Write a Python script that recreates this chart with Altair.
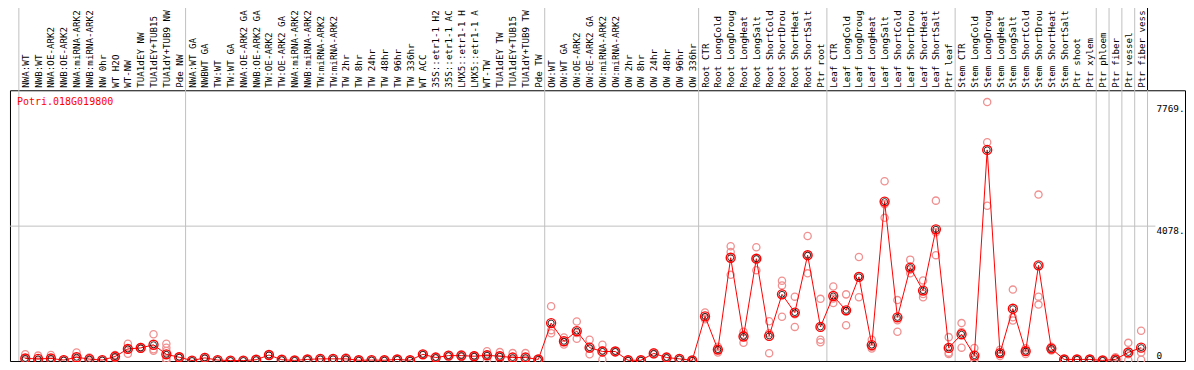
import json
import pandas as pd
import altair as alt

gene = "Potri.018G019800"

labels = [
    "NWA:WT", "NWB:WT", "NWA:OE-ARK2", "NWB:OE-ARK2", "NWA:miRNA-ARK2", "NWB:miRNA-ARK2",
    "NW 0hr", "WT H2O", "WT-NW", "TUA1dEY NW", "TUA1dEY+TUB15", "TUA1dY+TUB9 NW", "Pde NW",
    "NWA:WT GA", "NWBWT GA", "TW:WT", "TW:WT GA", "NWA:OE-ARK2 GA", "NWB:OE-ARK2 GA",
    "TW:OE-ARK2", "TW:OE-ARK2 GA", "NWA:miRNA-ARK2", "NWB:miRNA-ARK2", "TW:miRNA-ARK2",
    "TW:miRNA-ARK2", "TW 2hr", "TW 8hr", "TW 24hr", "TW 48hr", "TW 96hr", "TW 336hr",
    "WT ACC", "35S::etr1-1 H2", "35S::etr1-1 AC", "LMX5::etr1-1 H", "LMX5::etr1-1 A",
    "WT-TW", "TUA1dEY TW", "TUA1dEY+TUB15", "TUA1dY+TUB9 TW", "Pde TW",
    "OW:WT", "OW:WT GA", "OW:OE-ARK2", "OW:OE-ARK2 GA", "OW:miRNA-ARK2", "OW:miRNA-ARK2",
    "OW 2hr", "OW 8hr", "OW 24hr", "OW 48hr", "OW 96hr", "OW 336hr",
    "Root CTR", "Root LongCold", "Root LongDroug", "Root LongHeat", "Root LongSalt",
    "Root ShortCold", "Root ShortDrou", "Root ShortHeat", "Root ShortSalt", "Ptr root",
    "Leaf CTR", "Leaf LongCold", "Leaf LongDroug", "Leaf LongHeat", "Leaf LongSalt",
    "Leaf ShortCold", "Leaf ShortDrou", "Leaf ShortHeat", "Leaf ShortSalt", "Ptr leaf",
    "Stem CTR", "Stem LongCold", "Stem LongDroug", "Stem LongHeat", "Stem LongSalt",
    "Stem ShortCold", "Stem ShortDrou", "Stem ShortHeat", "Stem ShortSalt", "Ptr shoot",
    "Ptr xylem", "Ptr phloem", "Ptr fiber", "Ptr vessel", "Ptr fiber vess",
]

means = [
    64, 52, 64, 15, 101, 44, 15, 122, 353, 383, 479, 189, 101,
    0, 82, 15, 0, 0, 25, 168, 25, 5, 35, 52, 52, 52, 10, 15, 10, 35, 10, 189, 92, 150,
    150, 131, 160, 131, 92, 92, 35,
    1137, 585, 895, 392, 276, 276, 10, 10, 218, 92, 52, 5,
    1340, 334, 3120, 731, 3091, 749, 2008, 1456, 3198, 1021,
    1959, 1524, 2539, 470, 4823, 1311, 2821, 2124, 3981, 383,
    798, 150, 6390, 227, 1573, 285, 2888, 363, 35, 35, 35,
    5, 35, 247, 392,
]

reps = [
    [190, 60, 0], [150, 20, 0], [168, 40, 0], [25, 15, 5], [247, 60, 0], [90, 40, 5],
    [20, 15, 10], [170, 120, 80], [508, 353, 209], [410, 380, 360], [798, 343, 296],
    [508, 392, 290, 60, 0], [120, 100, 85],
    [5, 0, 0], [110, 80, 55], [20, 15, 10], [0, 0, 0], [0, 0, 0], [35, 25, 15],
    [180, 168, 155], [35, 25, 15], [10, 5, 0], [45, 35, 25], [70, 52, 35], [65, 52, 40],
    [90, 45, 20], [15, 10, 5], [20, 15, 10], [15, 10, 5], [45, 35, 25], [15, 10, 5],
    [200, 189, 178], [110, 92, 75], [165, 150, 135], [189, 150, 110], [150, 131, 112],
    [285, 160, 35], [256, 122, 15], [227, 40, 10], [227, 40, 10], [45, 35, 25],
    [1648, 923, 827], [702, 565, 488], [1185, 840, 662], [633, 355, 189], [479, 315, 35],
    [290, 276, 262], [15, 10, 5], [15, 10, 5], [250, 210, 195], [110, 92, 75],
    [65, 52, 40], [10, 5, 0],
    [1456, 1311, 1253], [420, 334, 247], [3468, 3294, 2600], [876, 780, 537],
    [3439, 3091, 2743], [1195, 827, 225], [2420, 2280, 1330], [1939, 1408, 1021],
    [3778, 3170, 2646], [1872, 633, 557],
    [2249, 1880, 1747], [2008, 1500, 1069], [3140, 2556, 1921], [633, 415, 363],
    [5441, 4745, 4330], [1834, 1223, 876], [3062, 2755, 2646], [2432, 2020, 1921],
    [4852, 3893, 3198], [711, 240, 198],
    [1137, 865, 392], [380, 35, 35], [7841, 6622, 4696], [325, 220, 136],
    [2153, 1311, 1214], [372, 285, 198], [5035, 1939, 1698], [420, 363, 306],
    [45, 35, 25], [45, 35, 25], [45, 35, 25],
    [10, 5, 0], [102, 10, 0], [537, 190, 15], [905, 247, 25],
]

group_bounds = [-0.5, 12.5, 40.5, 52.5, 62.5, 72.5, 83.5, 84.5, 85.5, 86.5, 87.5]
y_ticks = [0, 4078, 7769]
grid_ticks = [4078]

# ---- layout (reference pixels scaled into the 1178x354 drawing area) ----
SX = 1178 / 1194
SY = 354 / 370
PAD_L = 2 * SX
PAD_T = 86 * SY
W = 1191 * SX
H = 283 * SY
PAD_R = 1178 - PAD_L - W
PAD_B = 354 - PAD_T - H
FONT = "DejaVu Sans Mono"
FS = 9.2

n = len(labels)
df_mean = pd.DataFrame({"x": list(range(n)), "y": means[:n]})
rows = []
for i, r in enumerate(reps[:n]):
    for v in r:
        rows.append({"x": i, "y": v})
df_rep = pd.DataFrame(rows)
df_sep = pd.DataFrame({"x": group_bounds})
df_last = pd.DataFrame({"x": group_bounds[-1:]})
df_grid = pd.DataFrame({"y": grid_ticks})
df_name = pd.DataFrame({"name": [gene]})

xs = alt.Scale(domain=[-15.5 / 13, (1191 - 15.5) / 13], nice=False, zero=False)
ys = alt.Scale(domain=[-0.5 * 4078 / 140.5, 282.5 * 4078 / 140.5], nice=False, zero=False)

label_js = "[" + ",".join(json.dumps(s) for s in labels) + "][datum.value]"

xaxis = alt.Axis(
    orient="top", values=list(range(n)), labelExpr=label_js, labelAngle=270,
    labelAlign="left", labelBaseline="middle", labelPadding=3, ticks=False, tickSize=0,
    domain=False, grid=False, labelOverlap=False, labelFlush=False, labelBound=False,
    labelLimit=300, labelFont=FONT, labelFontSize=FS, labelColor="black", title=None,
)
yaxis = alt.Axis(
    orient="right", values=y_ticks,
    labelExpr="datum.value == 0 ? '0' : datum.value + '.'",
    labelAlign="left",
    labelBaseline={"condition": {"test": "datum.value == 0", "value": "bottom"}, "value": "top"},
    labelPadding=-29.1, ticks=False, tickSize=0, domain=False, grid=False,
    labelOverlap=False, labelFlush=False, labelBound=False,
    labelFont=FONT, labelFontSize=9.4, labelColor="black", title=None,
)

X = alt.X("x:Q", scale=xs, axis=xaxis)
Y = alt.Y("y:Q", scale=ys, axis=yaxis)

sep = alt.Chart(df_sep).mark_rule(color="#c0c0c0", strokeWidth=1).encode(
    x=X, y=alt.value(-PAD_T), y2=alt.value(H)
)
sep_top = alt.Chart(df_last).mark_rule(color="black", strokeWidth=1).encode(
    x=X, y=alt.value(-PAD_T), y2=alt.value(0)
)
grid = alt.Chart(df_grid).mark_rule(color="#c0c0c0", strokeWidth=1).encode(
    y=Y, x=alt.value(0), x2=alt.value(1163 * SX - PAD_L)
)
rep_pts = alt.Chart(df_rep).mark_point(
    shape="circle", filled=False, color="#f09090", size=52, strokeWidth=1.3, opacity=1
).encode(x=X, y=Y)
line = alt.Chart(df_mean).mark_line(color="#ff0000", strokeWidth=1).encode(x=X, y=Y)
mean_o = alt.Chart(df_mean).mark_point(
    shape="circle", filled=False, color="#ff0000", size=80, strokeWidth=1.4, opacity=1
).encode(x=X, y=Y)
mean_i = alt.Chart(df_mean).mark_point(
    shape="circle", filled=False, color="#000000", size=36, strokeWidth=0.8, opacity=1
).encode(x=X, y=Y)
title = alt.Chart(df_name).mark_text(
    align="left", baseline="alphabetic", font=FONT, fontSize=10, color="#ff0000"
).encode(x=alt.value(9 * SX - PAD_L), y=alt.value(101 * SY - PAD_T), text="name:N")

chart = alt.layer(sep, sep_top, grid, rep_pts, line, mean_o, mean_i, title).properties(
    width=W, height=H,
    padding={"left": PAD_L, "top": PAD_T, "right": PAD_R, "bottom": PAD_B},
    autosize=alt.AutoSizeParams(type="none"),
    background="white",
).configure_view(stroke="black", strokeWidth=1)

chart.save("out.html", embed_options={"renderer": "svg", "actions": False})
